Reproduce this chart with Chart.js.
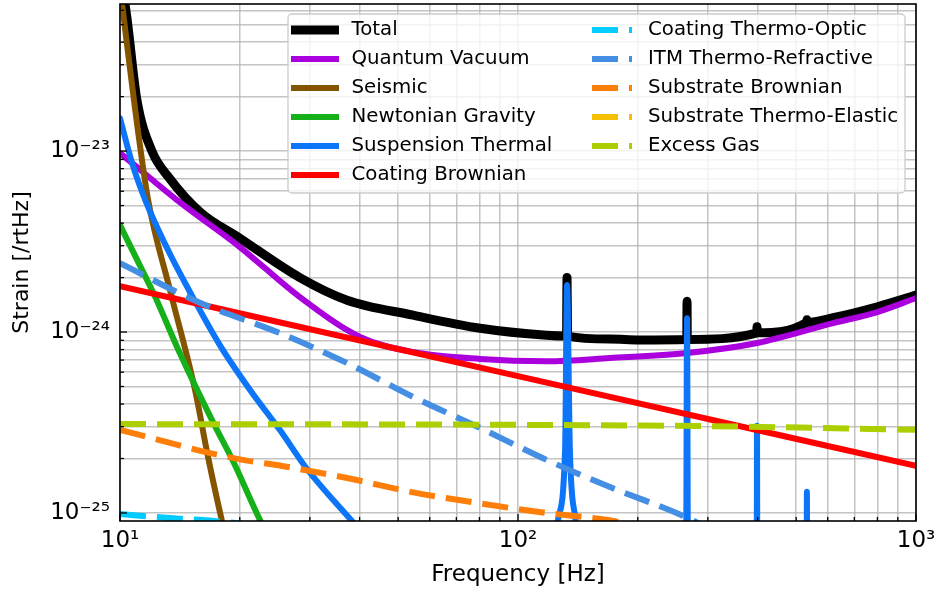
<!DOCTYPE html>
<html>
<head>
<meta charset="utf-8">
<script src="https://cdn.jsdelivr.net/npm/chart.js@4.4.1/dist/chart.umd.min.js"></script>
<style>
  html, body { margin: 0; padding: 0; background: #fff; }
  #wrap { width: 936px; height: 591px; }
</style>
</head>
<body>
<div id="wrap"><canvas id="noiseChart"></canvas></div>
<script>
// axis ticks
const freqTicks = [10, 20, 30, 40, 50, 60, 70, 80, 90, 100, 200, 300, 400, 500, 600, 700, 800, 900, 1000];
const freqMajor = [10, 100, 1000];
const freqLabels = ['10¹', '10²', '10³'];
const strainTicks = [1e-25, 2e-25, 3e-25, 4e-25, 5e-25, 6e-25, 7e-25, 8e-25, 9e-25,
  1e-24, 2e-24, 3e-24, 4e-24, 5e-24, 6e-24, 7e-24, 8e-24, 9e-24,
  1e-23, 2e-23, 3e-23, 4e-23, 5e-23, 6e-23];
const strainMajor = [1e-25, 1e-24, 1e-23];
const strainLabels = ['10⁻²⁵', '10⁻²⁴', '10⁻²³'];

// noise curves, [frequency Hz, strain /rtHz]
const total = [[10, 8.2e-23], [10.29, 6.5e-23], [11.03, 1.91e-23], [12.03, 1.0e-23], [13.3, 7.1e-24],
  [15.9, 4.6e-24], [20, 3.3e-24], [28.3, 2.0e-24], [37.2, 1.5e-24], [54.5, 1.24e-24], [80.3, 1.05e-24],
  [118, 9.6e-25], [132.4, 9.5e-25], [132.8, 2.0e-24], [133.2, 9.5e-25], [170, 9.15e-25], [202, 9.05e-25],
  [265.5, 9.1e-25], [265.9, 1.48e-24], [266.3, 9.1e-25], [398.2, 9.9e-25], [398.6, 1.07e-24], [399, 9.9e-25],
  [531.6, 1.13e-24], [532, 1.17e-24], [532.4, 1.13e-24], [619, 1.2e-24], [800, 1.38e-24], [1000, 1.6e-24]];
const quantumVacuum = [[10, 9.75e-24], [11.9, 7.1e-24], [14.15, 5.2e-24], [20, 2.95e-24], [28.3, 1.56e-24],
  [40.1, 9.4e-25], [54.5, 7.75e-25], [80.3, 7.1e-25], [118, 6.9e-25], [170, 7.18e-25], [266, 7.66e-25],
  [399, 8.7e-25], [619, 1.12e-24], [800, 1.29e-24], [1000, 1.54e-24]];
const seismic = [[10, 8.0e-23], [10.12, 6.5e-23], [10.84, 1.91e-23], [11.76, 5.4e-24], [13.35, 1.71e-24],
  [15.43, 4.8e-25], [16.64, 2.04e-25], [18.04, 9.0e-26], [20, 3.5e-26]];
const newtonian = [[10, 3.9e-24], [11.2, 2.35e-24], [12.2, 1.6e-24], [14.15, 7.6e-25], [17.1, 3.2e-25],
  [19.2, 1.95e-25], [22.5, 9.1e-26], [25, 5.8e-26]];
const suspensionThermal = [[10, 1.52e-23], [10.72, 8.6e-24], [11.56, 5.4e-24], [13.2, 2.84e-24], [15.0, 1.66e-24],
  [17.8, 8.5e-25], [21.2, 4.8e-25], [25.2, 2.88e-25], [29.5, 1.75e-25], [38.3, 9.0e-26], [45, 6e-26],
  [124, 6e-26], [125.9, 9.0e-26], [131.3, 2.23e-25], [132.8, 1.82e-24], [135.0, 2.23e-25], [139.6, 9.0e-26], [142, 6e-26],
  [264.5, 6e-26], [265.9, 1.19e-24], [267.3, 6e-26],
  [398, 6e-26], [398.6, 3.03e-25], [399.2, 6e-26],
  [531.4, 6e-26], [532, 1.31e-25], [532.6, 6e-26], [1000, 6e-26]];
const coatingBrownian = [[10, 1.79e-24], [100, 5.71e-25], [1000, 1.82e-25]];
const coatingThermoOptic = [[10, 9.86e-26], [13.35, 9.37e-26], [17.3, 9.03e-26], [25, 8.3e-26]];
const itmThermoRefractive = [[10, 2.4e-24], [15.88, 1.45e-24], [25.2, 9.87e-25], [37.2, 6.74e-25], [54.5, 4.38e-25],
  [80.3, 2.95e-25], [118.3, 1.96e-25], [170.3, 1.39e-25], [275, 9.1e-26], [320, 7.5e-26]];
const substrateBrownian = [[10, 2.88e-25], [13.35, 2.44e-25], [16.45, 2.17e-25], [20.5, 1.96e-25], [25.5, 1.82e-25],
  [37.2, 1.56e-25], [54.5, 1.3e-25], [80.3, 1.13e-25], [118.3, 1.0e-25], [160.7, 9.27e-26], [175, 9.0e-26], [250, 7.2e-26]];
const substrateThermoElastic = [[10, 4e-26], [100, 3e-26], [1000, 2e-26]];
const excessGas = [[10, 3.10e-25], [100, 3.07e-25], [300, 3.02e-25], [1000, 2.88e-25]];

const curves = [
  { label: 'Total', data: total, color: '#000000', width: 9 },
  { label: 'Quantum Vacuum', data: quantumVacuum, color: '#aa00dd', width: 6 },
  { label: 'Seismic', data: seismic, color: '#845400', width: 6 },
  { label: 'Newtonian Gravity', data: newtonian, color: '#15b01a', width: 6 },
  { label: 'Suspension Thermal', data: suspensionThermal, color: '#0d75f8', width: 6 },
  { label: 'Coating Brownian', data: coatingBrownian, color: '#ff0000', width: 6 },
  { label: 'Coating Thermo-Optic', data: coatingThermoOptic, color: '#00ccff', width: 6, dash: [26, 11] },
  { label: 'ITM Thermo-Refractive', data: itmThermoRefractive, color: '#448ee4', width: 6, dash: [26, 11] },
  { label: 'Substrate Brownian', data: substrateBrownian, color: '#fd7e08', width: 6, dash: [26, 11] },
  { label: 'Substrate Thermo-Elastic', data: substrateThermoElastic, color: '#f5bf03', width: 6, dash: [26, 11] },
  { label: 'Excess Gas', data: excessGas, color: '#abcf00', width: 6, dash: [26, 11] }
];

const gridColor = 'rgba(176, 176, 176, 0.75)';

// inward tick marks plus the box around the plot
const axesFrame = {
  id: 'axesFrame',
  afterDatasetsDraw(chart) {
    const { ctx, chartArea: a, scales: { x, y } } = chart;
    ctx.save();
    ctx.strokeStyle = '#000';
    ctx.lineWidth = 1.3;
    freqTicks.forEach(v => {
      const px = x.getPixelForValue(v);
      const len = freqMajor.includes(v) ? 7 : 4;
      ctx.beginPath();
      ctx.moveTo(px, a.bottom);
      ctx.lineTo(px, a.bottom - len);
      ctx.stroke();
    });
    strainTicks.forEach(v => {
      const py = y.getPixelForValue(v);
      const len = strainMajor.includes(v) ? 7 : 4;
      ctx.beginPath();
      ctx.moveTo(a.left, py);
      ctx.lineTo(a.left + len, py);
      ctx.stroke();
    });
    ctx.lineWidth = 1.6;
    ctx.strokeRect(a.left, a.top, a.right - a.left, a.bottom - a.top);
    ctx.restore();
  }
};

// two column legend, upper right
const noiseLegend = {
  id: 'noiseLegend',
  afterDraw(chart) {
    const { ctx, chartArea: a } = chart;
    const w = 617, h = 179;
    const right = a.right - 11, top = a.top + 10, left = right - w;
    ctx.save();
    ctx.beginPath();
    ctx.roundRect(left, top, w, h, 4);
    ctx.fillStyle = 'rgba(255, 255, 255, 0.8)';
    ctx.fill();
    ctx.strokeStyle = '#cccccc';
    ctx.lineWidth = 1.3;
    ctx.stroke();
    ctx.font = '19.8px "DejaVu Sans"';
    ctx.textBaseline = 'middle';
    chart.data.datasets.forEach((ds, i) => {
      const col = i < 6 ? 0 : 1;
      const row = col ? i - 6 : i;
      const cy = top + 16 + row * 29;
      const hx = left + (col ? 304 : 3);
      ctx.save();
      ctx.strokeStyle = ds.borderColor;
      ctx.lineWidth = ds.borderWidth;
      ctx.setLineDash(ds.borderDash || []);
      ctx.lineCap = 'butt';
      ctx.beginPath();
      ctx.moveTo(hx, cy);
      ctx.lineTo(hx + (col ? 40 : 48), cy);
      ctx.stroke();
      ctx.restore();
      ctx.fillStyle = '#000';
      ctx.fillText(ds.label, left + (col ? 360 : 63.5), cy);
    });
    ctx.restore();
  }
};

const noPad = s => {
  s.paddingTop = 0;
  s.paddingBottom = 0;
  s.paddingLeft = 0;
  s.paddingRight = 0;
};

const ctx = document.getElementById('noiseChart').getContext('2d');
const noiseChart = new Chart(ctx, {
  type: 'line',
  data: {
    datasets: curves.map((c, i) => ({
      label: c.label,
      data: c.data.map(p => ({ x: p[0], y: p[1] })),
      borderColor: c.color,
      backgroundColor: c.color,
      borderWidth: c.width,
      borderDash: c.dash || [],
      borderCapStyle: c.dash ? 'butt' : 'round',
      borderJoinStyle: 'round',
      cubicInterpolationMode: 'monotone',
      pointRadius: 0,
      fill: false,
      clip: 0,
      order: curves.length - i
    }))
  },
  options: {
    responsive: true,
    maintainAspectRatio: false,
    animation: false,
    devicePixelRatio: 1,
    layout: { autoPadding: false, padding: { left: 0, right: 20, top: 4, bottom: 0 } },
    plugins: {
      legend: { display: false },
      tooltip: { enabled: false }
    },
    scales: {
      x: {
        type: 'logarithmic',
        min: 10,
        max: 1000,
        afterBuildTicks: s => { s.ticks = freqTicks.map(v => ({ value: v })); },
        afterFit: s => { s.height = 70; noPad(s); },
        ticks: {
          autoSkip: false,
          maxRotation: 0,
          padding: 6,
          color: '#000',
          font: { family: '"DejaVu Sans"', size: 23 },
          callback: v => {
            const i = freqMajor.indexOf(v);
            return i >= 0 ? freqLabels[i] : '';
          }
        },
        grid: { color: gridColor, lineWidth: 1.5, drawTicks: false },
        border: { display: false },
        title: {
          display: true,
          text: 'Frequency [Hz]',
          color: '#000',
          font: { family: '"DejaVu Sans"', size: 23 },
          padding: { top: 0, bottom: 2 }
        }
      },
      y: {
        type: 'logarithmic',
        min: 9.03e-26,
        max: 6.5e-23,
        afterBuildTicks: s => { s.ticks = strainTicks.map(v => ({ value: v })); },
        afterFit: s => { s.width = 120; noPad(s); },
        ticks: {
          autoSkip: false,
          padding: 10,
          color: '#000',
          font: { family: '"DejaVu Sans"', size: 23 },
          callback: v => {
            const i = strainMajor.indexOf(v);
            return i >= 0 ? strainLabels[i] : '';
          }
        },
        grid: { color: gridColor, lineWidth: 1.5, drawTicks: false },
        border: { display: false },
        title: {
          display: true,
          text: 'Strain [/rtHz]',
          color: '#000',
          font: { family: '"DejaVu Sans"', size: 22 },
          padding: { top: 9, bottom: 0 }
        }
      }
    }
  },
  plugins: [axesFrame, noiseLegend]
});
</script>
</body>
</html>
